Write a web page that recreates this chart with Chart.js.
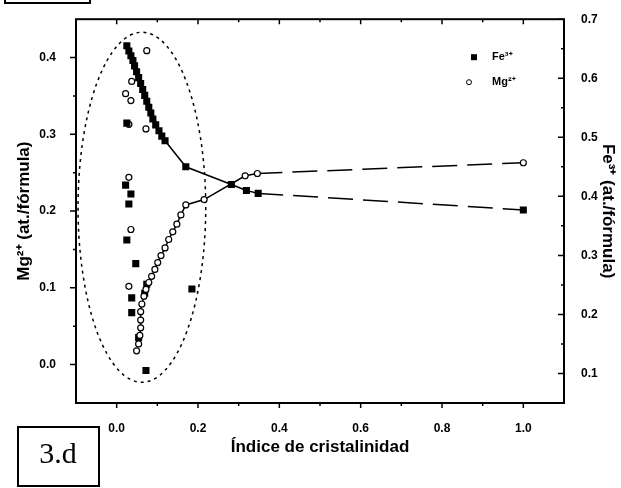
<!DOCTYPE html>
<html>
<head>
<meta charset="utf-8">
<script src="https://cdn.jsdelivr.net/npm/chart.js@4/dist/chart.umd.min.js"></script>
<style>
  html, body { margin: 0; padding: 0; background: #fff; }
  #wrap { width: 621px; height: 488px; position: relative; }
</style>
</head>
<body>
<div id="wrap"><canvas id="chart" width="621" height="488"></canvas></div>
<script>
// Axis ticks
const xTickValues = [0, 0.2, 0.4, 0.6, 0.8, 1.0];
const xMinorTicks = [0.1, 0.3, 0.5, 0.7, 0.9];
const mgTickValues = [0, 0.1, 0.2, 0.3, 0.4];
const mgMinorTicks = [0.05, 0.15, 0.25, 0.35];
const feTickValues = [0.1, 0.2, 0.3, 0.4, 0.5, 0.6, 0.7];
const feMinorTicks = [0.15, 0.25, 0.35, 0.45, 0.55, 0.65];

// Fe3+ (filled squares, right axis) - connected series
const feLineX = [0.025, 0.030, 0.035, 0.040, 0.044, 0.049, 0.054, 0.059, 0.064, 0.069, 0.074, 0.079,
  0.084, 0.089, 0.096, 0.104, 0.111, 0.119, 0.170, 0.282, 0.319, 0.348, 1.0];
const feLineY = [0.655, 0.646, 0.638, 0.630, 0.621, 0.611, 0.601, 0.591, 0.581, 0.571, 0.561, 0.551,
  0.541, 0.531, 0.521, 0.511, 0.502, 0.494, 0.450, 0.420, 0.410, 0.405, 0.377];

// Mg2+ (open circles, left axis) - connected series
const mgLineX = [0.054, 0.057, 0.059, 0.059, 0.059, 0.062, 0.067, 0.072, 0.079, 0.086, 0.094, 0.101,
  0.109, 0.119, 0.128, 0.138, 0.148, 0.158, 0.170, 0.215, 0.316, 0.346, 1.0];
const mgLineY = [0.027, 0.038, 0.048, 0.058, 0.069, 0.079, 0.089, 0.098, 0.107, 0.115, 0.124, 0.133,
  0.142, 0.152, 0.163, 0.173, 0.183, 0.195, 0.208, 0.215, 0.246, 0.249, 0.263];

// loose points inside the ellipse
const feDotsX = [0.025, 0.022, 0.035, 0.030, 0.025, 0.047, 0.037, 0.037, 0.074, 0.069, 0.054, 0.072, 0.185];
const feDotsY = [0.524, 0.419, 0.404, 0.387, 0.326, 0.286, 0.228, 0.203, 0.251, 0.236, 0.161, 0.105, 0.243];
const mgDotsX = [0.074, 0.037, 0.022, 0.035, 0.030, 0.072, 0.030, 0.035, 0.030, 0.049];
const mgDotsY = [0.409, 0.369, 0.353, 0.344, 0.313, 0.307, 0.244, 0.176, 0.102, 0.018];

const toPts = (xs, ys) => xs.map((x, i) => ({ x: x, y: ys[i] }));
const lastDash = n => ctx => ctx.p1DataIndex === n - 1 ? [25, 10] : undefined;

const tickFont = { family: 'Liberation Sans', size: 12, weight: 'bold' };
const titleFont = { family: 'Liberation Sans', size: 17, weight: 'bold' };

// frame, ticks on all four sides, ellipse, legend, label boxes
const decor = {
  id: 'decor',
  beforeDatasetsDraw(chart) {
    const { ctx, scales } = chart;
    const cx = scales.x.getPixelForValue(0.062);
    const cy = scales.yL.getPixelForValue(0.205);
    const rx = scales.x.getPixelForValue(0.062 + 0.157) - cx;
    const ry = cy - scales.yL.getPixelForValue(0.205 + 0.228);
    ctx.save();
    ctx.strokeStyle = '#000';
    ctx.lineWidth = 1.5;
    ctx.setLineDash([3, 4]);
    ctx.beginPath();
    ctx.ellipse(cx, cy, rx, ry, 0, 0, Math.PI * 2);
    ctx.stroke();
    ctx.restore();
  },
  afterDatasetsDraw(chart) {
    const { ctx, chartArea: a, scales } = chart;
    ctx.save();
    ctx.strokeStyle = '#000';
    ctx.lineWidth = 2;
    ctx.strokeRect(a.left, a.top, a.right - a.left, a.bottom - a.top);
    ctx.lineWidth = 1.5;
    ctx.beginPath();
    const hx = (vals, len) => vals.forEach(v => {
      const p = scales.x.getPixelForValue(v);
      ctx.moveTo(p, a.bottom); ctx.lineTo(p, a.bottom + len);
      ctx.moveTo(p, a.top); ctx.lineTo(p, a.top + len);
    });
    hx(xTickValues, 5); hx(xMinorTicks, 3);
    mgTickValues.forEach(v => { const p = scales.yL.getPixelForValue(v); ctx.moveTo(a.left, p); ctx.lineTo(a.left - 6, p); });
    mgMinorTicks.forEach(v => { const p = scales.yL.getPixelForValue(v); ctx.moveTo(a.left, p); ctx.lineTo(a.left - 3, p); });
    feTickValues.forEach(v => { const p = scales.yR.getPixelForValue(v); ctx.moveTo(a.right, p); ctx.lineTo(a.right - 6, p); });
    feMinorTicks.forEach(v => { const p = scales.yR.getPixelForValue(v); ctx.moveTo(a.right, p); ctx.lineTo(a.right - 3, p); });
    ctx.stroke();

    // legend
    const lx = a.right - 90, ly = a.top + 38;
    ctx.fillStyle = '#000';
    ctx.fillRect(lx - 3, ly - 3, 6, 6);
    ctx.beginPath();
    ctx.lineWidth = 1;
    ctx.arc(lx - 5, ly + 25, 2.5, 0, Math.PI * 2);
    ctx.stroke();
    ctx.font = 'bold 11px "Liberation Sans"';
    ctx.textBaseline = 'middle';
    ctx.fillText('Fe³⁺', lx + 18, ly);
    ctx.fillText('Mg²⁺', lx + 18, ly + 25);

    // boxes
    ctx.lineWidth = 2;
    ctx.strokeRect(5, -10, 85, 13);
    ctx.strokeRect(18, 427, 81, 59);
    ctx.font = '30px "Liberation Serif"';
    ctx.textBaseline = 'alphabetic';
    ctx.textAlign = 'center';
    ctx.fillText('3.d', 58, 463);
    ctx.restore();
  }
};

new Chart(document.getElementById('chart'), {
  type: 'scatter',
  data: {
    datasets: [
      {
        label: 'Fe³⁺', data: toPts(feLineX, feLineY), yAxisID: 'yR', showLine: true,
        borderColor: '#000', borderWidth: 1.5, pointStyle: 'rect', pointRadius: 5,
        pointBackgroundColor: '#000', pointBorderColor: '#000', pointBorderWidth: 0,
        segment: { borderDash: lastDash(feLineX.length) }
      },
      {
        label: 'Mg²⁺', data: toPts(mgLineX, mgLineY), yAxisID: 'yL', showLine: true,
        borderColor: '#000', borderWidth: 1.5, pointStyle: 'circle', pointRadius: 3,
        pointBackgroundColor: '#fff', pointBorderColor: '#000', pointBorderWidth: 1.2,
        segment: { borderDash: lastDash(mgLineX.length) }
      },
      {
        label: 'Fe dots', data: toPts(feDotsX, feDotsY), yAxisID: 'yR', showLine: false,
        pointStyle: 'rect', pointRadius: 5, pointBackgroundColor: '#000', pointBorderColor: '#000', pointBorderWidth: 0
      },
      {
        label: 'Mg dots', data: toPts(mgDotsX, mgDotsY), yAxisID: 'yL', showLine: false,
        pointStyle: 'circle', pointRadius: 3, pointBackgroundColor: '#fff', pointBorderColor: '#000', pointBorderWidth: 1.2
      }
    ]
  },
  options: {
    responsive: false,
    animation: false,
    layout: { padding: { top: 15, left: 0, right: 0, bottom: 0 } },
    plugins: { legend: { display: false }, tooltip: { enabled: false } },
    scales: {
      x: {
        type: 'linear', min: -0.1, max: 1.1,
        afterBuildTicks: s => { s.ticks = xTickValues.map(v => ({ value: v })); },
        afterFit: s => { s.height = 85; },
        ticks: { callback: v => v.toFixed(1), font: tickFont, color: '#000', padding: 10, maxRotation: 0, autoSkip: false },
        grid: { display: false }, border: { display: false },
        title: { display: true, text: 'Índice de cristalinidad', font: titleFont, color: '#000', padding: { top: 0, bottom: 30 } }
      },
      yL: {
        type: 'linear', position: 'left', min: -0.05, max: 0.45,
        afterBuildTicks: s => { s.ticks = mgTickValues.map(v => ({ value: v })); },
        afterFit: s => { s.width = 76; },
        ticks: { callback: v => v.toFixed(1), font: tickFont, color: '#000', padding: 12, autoSkip: false },
        grid: { display: false }, border: { display: false },
        title: { display: true, text: 'Mg²⁺ (at./fórmula)', font: titleFont, color: '#000', padding: { top: 14, bottom: 0 } }
      },
      yR: {
        type: 'linear', position: 'right', min: 0.05, max: 0.7,
        afterBuildTicks: s => { s.ticks = feTickValues.map(v => ({ value: v })); },
        afterFit: s => { s.width = 57; },
        ticks: { callback: v => v.toFixed(1), font: tickFont, color: '#000', padding: 9, autoSkip: false },
        grid: { display: false }, border: { display: false },
        title: { display: true, text: 'Fe³⁺ (at./fórmula)', font: titleFont, color: '#000', padding: { top: 3, bottom: 0 } }
      }
    }
  },
  plugins: [decor]
});
</script>
</body>
</html>
